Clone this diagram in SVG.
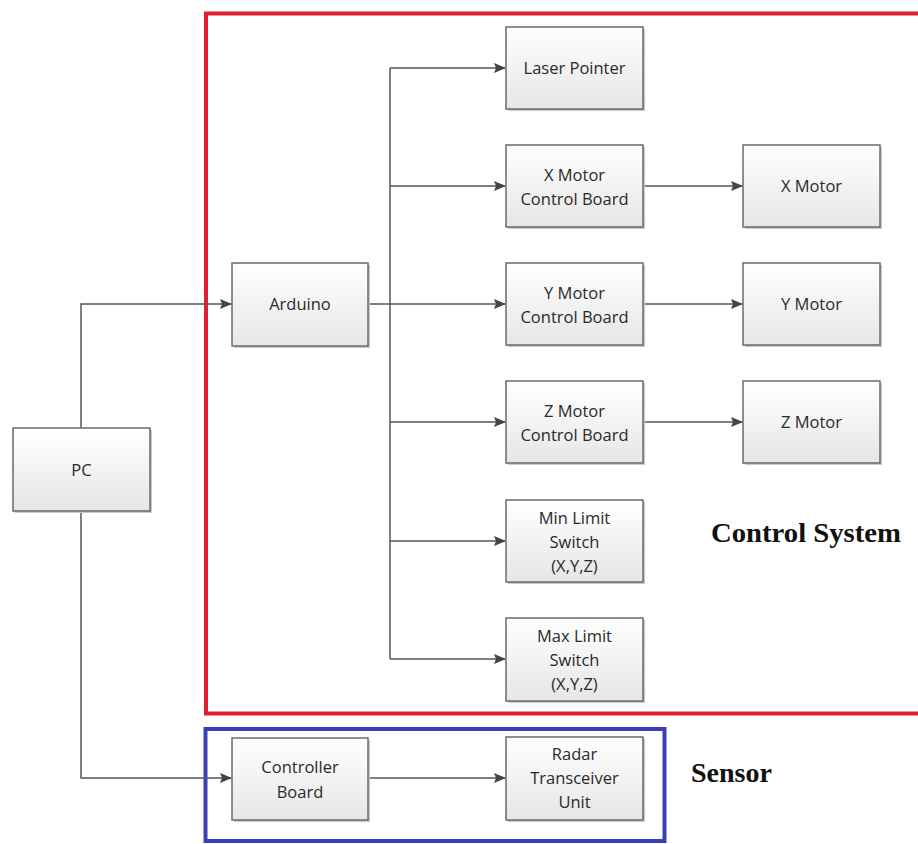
<svg xmlns="http://www.w3.org/2000/svg" width="918" height="844" viewBox="0 0 918 844">
<defs>
<linearGradient id="g" x1="0" y1="0" x2="0" y2="1">
<stop offset="0" stop-color="#ffffff"/>
<stop offset="1" stop-color="#e6e6e6"/>
</linearGradient>
<marker id="ah" markerWidth="12" markerHeight="10" refX="11" refY="5" orient="auto" markerUnits="userSpaceOnUse">
<path d="M0,0 L12,5 L0,10 L2,5 Z" fill="#444"/>
</marker>
<style>
.box rect.s{fill:#c8c8c8;stroke:none}
.box rect.b{fill:url(#g);stroke:#6a6a6a;stroke-width:1.5}
.box text{font-family:"Open Sans","Noto Sans",sans-serif;font-size:16.5px;fill:#2a2a2a;text-anchor:middle}
.c{fill:none;stroke:#555;stroke-width:1.5}
.ca{fill:none;stroke:#555;stroke-width:1.5;marker-end:url(#ah)}
.title{font-family:"Liberation Serif",serif;font-weight:bold;font-size:28px;fill:#111}
</style>
</defs>
<rect width="918" height="844" fill="#ffffff"/>
<g id="frames">
<rect x="206" y="13.5" width="720" height="700" fill="none" stroke="#e02030" stroke-width="4"/>
<rect x="205.5" y="729" width="459" height="112" fill="none" stroke="#3a3fb8" stroke-width="4"/>
</g>
<g id="connectors">
<path class="ca" d="M81,428 V304 H231"/>
<path class="ca" d="M81,511 V778 H231"/>
<path class="ca" d="M368,304 H505"/>
<path class="c" d="M390,68 V659"/>
<path class="ca" d="M390,68 H505"/>
<path class="ca" d="M390,186 H505"/>
<path class="ca" d="M390,422 H505"/>
<path class="ca" d="M390,541 H505"/>
<path class="ca" d="M390,659 H505"/>
<path class="ca" d="M643,186 H742"/>
<path class="ca" d="M643,304 H742"/>
<path class="ca" d="M643,422 H742"/>
<path class="ca" d="M368,778 H505"/>
</g>
<g id="pc" class="box"><rect class="s" x="15" y="430" width="137" height="83"/><rect class="b" x="13" y="428" width="137" height="83"/><text x="81.5" y="476">PC</text></g>
<g id="arduino" class="box"><rect class="s" x="234" y="265" width="136" height="83"/><rect class="b" x="232" y="263" width="136" height="83"/><text x="300" y="310">Arduino</text></g>
<g id="controller" class="box"><rect class="s" x="234" y="740" width="136" height="82"/><rect class="b" x="232" y="738" width="136" height="82"/><text x="300" y="773">Controller</text><text x="300" y="798">Board</text></g>
<g id="laser" class="box"><rect class="s" x="508" y="29" width="137" height="82"/><rect class="b" x="506" y="27" width="137" height="82"/><text x="574.5" y="74">Laser Pointer</text></g>
<g id="xmcb" class="box"><rect class="s" x="508" y="147" width="137" height="82"/><rect class="b" x="506" y="145" width="137" height="82"/><text x="574.5" y="181">X Motor</text><text x="574.5" y="205">Control Board</text></g>
<g id="ymcb" class="box"><rect class="s" x="508" y="265" width="137" height="82"/><rect class="b" x="506" y="263" width="137" height="82"/><text x="574.5" y="299">Y Motor</text><text x="574.5" y="323">Control Board</text></g>
<g id="zmcb" class="box"><rect class="s" x="508" y="383" width="137" height="82"/><rect class="b" x="506" y="381" width="137" height="82"/><text x="574.5" y="417">Z Motor</text><text x="574.5" y="441">Control Board</text></g>
<g id="minlimit" class="box"><rect class="s" x="508" y="502" width="137" height="82"/><rect class="b" x="506" y="500" width="137" height="82"/><text x="574.5" y="524">Min Limit</text><text x="574.5" y="548">Switch</text><text x="574.5" y="572">(X,Y,Z)</text></g>
<g id="maxlimit" class="box"><rect class="s" x="508" y="620" width="137" height="83"/><rect class="b" x="506" y="618" width="137" height="83"/><text x="574.5" y="642">Max Limit</text><text x="574.5" y="666">Switch</text><text x="574.5" y="690">(X,Y,Z)</text></g>
<g id="radar" class="box"><rect class="s" x="508" y="739" width="137" height="83"/><rect class="b" x="506" y="737" width="137" height="83"/><text x="574.5" y="760">Radar</text><text x="574.5" y="784">Transceiver</text><text x="574.5" y="808">Unit</text></g>
<g id="xmotor" class="box"><rect class="s" x="745" y="147" width="137" height="82"/><rect class="b" x="743" y="145" width="137" height="82"/><text x="811.5" y="192">X Motor</text></g>
<g id="ymotor" class="box"><rect class="s" x="745" y="265" width="137" height="82"/><rect class="b" x="743" y="263" width="137" height="82"/><text x="811.5" y="310">Y Motor</text></g>
<g id="zmotor" class="box"><rect class="s" x="745" y="383" width="137" height="82"/><rect class="b" x="743" y="381" width="137" height="82"/><text x="811.5" y="428">Z Motor</text></g>
<g id="labels">
<text class="title" x="711" y="542" textLength="190" lengthAdjust="spacingAndGlyphs">Control System</text>
<text class="title" x="691" y="782">Sensor</text>
</g>
</svg>
